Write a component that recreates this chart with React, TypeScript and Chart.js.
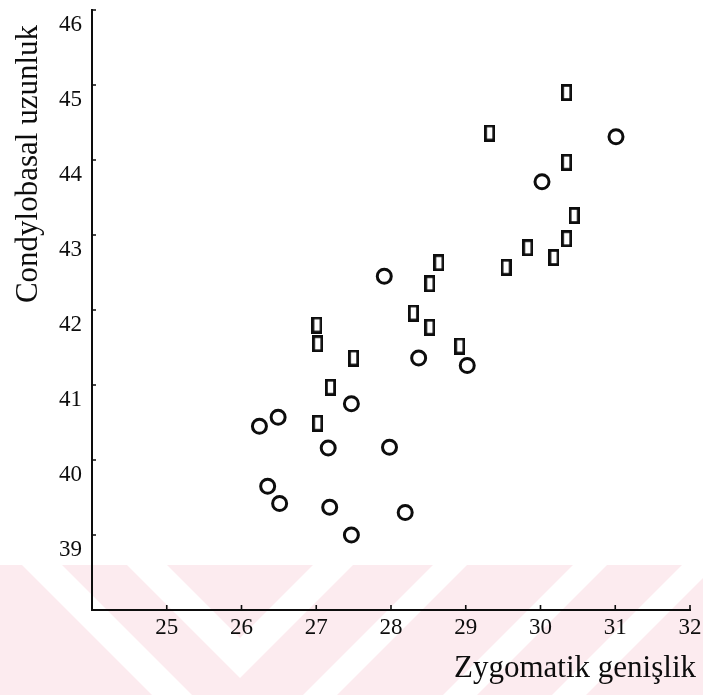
import React, { useEffect, useRef } from "react";
import { Chart, registerables } from "chart.js";

Chart.register(...registerables);

// Axis captions
const xTitle = "Zygomatik genişlik";
const yTitle = "Condylobasal uzunluk";

// Axis ranges and labelled ticks
const xRange = [24, 32];
const yRange = [38, 46];
const xTickValues = [24, 25, 26, 27, 28, 29, 30, 31, 32];
const yTickValues = [38, 39, 40, 41, 42, 43, 44, 45, 46];

// Group drawn with open circles
const circleX = [26.24, 26.49, 26.35, 26.51, 27.16, 27.18, 27.47, 27.47, 27.91, 27.98, 28.37, 28.19, 29.02, 30.02, 31.01];
const circleY = [40.45, 40.57, 39.65, 39.42, 40.16, 39.37, 40.75, 39.0, 42.45, 40.17, 41.36, 39.3, 41.26, 43.71, 44.31];

// Group drawn with narrow open rectangles
const rectX = [27.19, 27.02, 27.01, 27.02, 27.5, 28.3, 28.52, 28.52, 28.64, 28.92, 29.32, 29.54, 29.83, 30.18, 30.35, 30.45, 30.35, 30.35];
const rectY = [40.97, 40.49, 41.8, 41.55, 41.36, 41.96, 41.77, 42.35, 42.63, 41.52, 44.36, 42.57, 42.83, 42.7, 42.95, 43.26, 43.97, 44.9];

const INK = "#0d0d0d";
const FONT = '"Liberation Serif", "Times New Roman", serif';
const STAMP_PINK = "rgb(252, 235, 239)";

function makeRectMarker(): HTMLCanvasElement {
  const c = document.createElement("canvas");
  c.width = 11;
  c.height = 17;
  const g = c.getContext("2d")!;
  g.strokeStyle = INK;
  g.lineWidth = 2.8;
  g.strokeRect(1.4, 1.4, 8.2, 14.2);
  return c;
}

// Faint chevron stamp along the lower edge of the page
const pageStamp = {
  id: "pageStamp",
  beforeDraw(chart: any) {
    const { ctx, width, height } = chart;
    const top = 565;
    const h = height - top;
    ctx.save();
    ctx.fillStyle = STAMP_PINK;
    ctx.fillRect(0, top, width, h);
    ctx.fillStyle = "#ffffff";
    const poly = (pts: number[][]) => {
      ctx.beginPath();
      ctx.moveTo(pts[0][0], pts[0][1]);
      pts.slice(1).forEach((p) => ctx.lineTo(p[0], p[1]));
      ctx.closePath();
      ctx.fill();
    };
    // central white chevron
    poly([[127, top], [167, top], [240, top + 73], [313, top], [353, top], [240, top + 113]]);
    // slanted white bands
    poly([[22, top], [62, top], [62 + h, height], [22 + h, height]]);
    [433, 573, 682].forEach((a) => {
      poly([[a, top], [a + 34, top], [a + 34 - h, height], [a - h, height]]);
    });
    ctx.restore();
  },
};

// Inward tick marks plus the two axis captions
const axisDecor = {
  id: "axisDecor",
  afterDraw(chart: any) {
    const { ctx, chartArea, scales } = chart;
    ctx.save();
    ctx.strokeStyle = INK;
    ctx.lineWidth = 1.6;
    ctx.beginPath();
    xTickValues.forEach((v) => {
      const px = scales.x.getPixelForValue(v);
      ctx.moveTo(px, chartArea.bottom);
      ctx.lineTo(px, chartArea.bottom - 5);
    });
    yTickValues.forEach((v) => {
      const py = scales.y.getPixelForValue(v);
      ctx.moveTo(chartArea.left, py);
      ctx.lineTo(chartArea.left + 4, py);
    });
    ctx.stroke();

    ctx.font = `31px ${FONT}`;
    ctx.fillStyle = INK;
    ctx.textBaseline = "alphabetic";

    // horizontal caption, right-aligned under the axis end
    ctx.textAlign = "right";
    ctx.fillText(xTitle, chartArea.right + 6, chartArea.bottom + 67);

    // vertical caption, reading upward, ending near the top of the axis
    ctx.translate(chartArea.left - 55, chartArea.top + 15);
    ctx.rotate(-Math.PI / 2);
    ctx.textAlign = "right";
    ctx.fillText(yTitle, 0, 0);
    ctx.restore();
  },
};

export default function App() {
  const canvasRef = useRef<HTMLCanvasElement | null>(null);

  useEffect(() => {
    const canvas = canvasRef.current;
    if (!canvas) return;
    const rectMarker = makeRectMarker();

    const chart = new Chart(canvas, {
      type: "scatter",
      data: {
        datasets: [
          {
            label: "circles",
            data: circleX.map((x, i) => ({ x, y: circleY[i] })),
            pointStyle: "circle",
            pointRadius: 7,
            pointBorderWidth: 3,
            pointBorderColor: INK,
            pointBackgroundColor: "rgba(0,0,0,0)",
          },
          {
            label: "rectangles",
            data: rectX.map((x, i) => ({ x, y: rectY[i] })),
            pointStyle: rectMarker,
            pointRadius: 8,
          },
        ],
      },
      options: {
        responsive: false,
        animation: false,
        devicePixelRatio: 1,
        layout: { padding: { top: 5, right: 13, bottom: 0, left: 0 } },
        plugins: {
          legend: { display: false },
          tooltip: { enabled: false },
        },
        scales: {
          x: {
            type: "linear",
            min: xRange[0],
            max: xRange[1],
            afterBuildTicks: (s: any) => {
              s.ticks = xTickValues.map((value) => ({ value }));
            },
            afterFit: (s: any) => {
              s.height = 85;
              s.paddingLeft = 0;
              s.paddingRight = 0;
            },
            ticks: {
              color: INK,
              font: { family: FONT, size: 23 },
              padding: 4,
              maxRotation: 0,
              autoSkip: false,
              callback: (v: any) => (v === xRange[0] ? "" : String(v)),
            },
            grid: { drawOnChartArea: false, drawTicks: false },
            border: { display: true, color: INK, width: 2 },
          },
          y: {
            type: "linear",
            min: yRange[0],
            max: yRange[1],
            afterBuildTicks: (s: any) => {
              s.ticks = yTickValues.map((value) => ({ value }));
            },
            afterFit: (s: any) => {
              s.width = 92;
              s.paddingTop = 0;
              s.paddingBottom = 0;
            },
            ticks: {
              color: INK,
              font: { family: FONT, size: 23 },
              padding: 10,
              labelOffset: 15,
              autoSkip: false,
              callback: (v: any) => (v === yRange[0] ? "" : String(v)),
            },
            grid: { drawOnChartArea: false, drawTicks: false },
            border: { display: true, color: INK, width: 2 },
          },
        },
      },
      plugins: [pageStamp, axisDecor],
    });

    return () => chart.destroy();
  }, []);

  return (
    <div style={{ position: "absolute", left: 0, top: 0, width: 703, height: 695, background: "#ffffff" }}>
      <canvas ref={canvasRef} width={703} height={695} style={{ display: "block" }} />
    </div>
  );
}
